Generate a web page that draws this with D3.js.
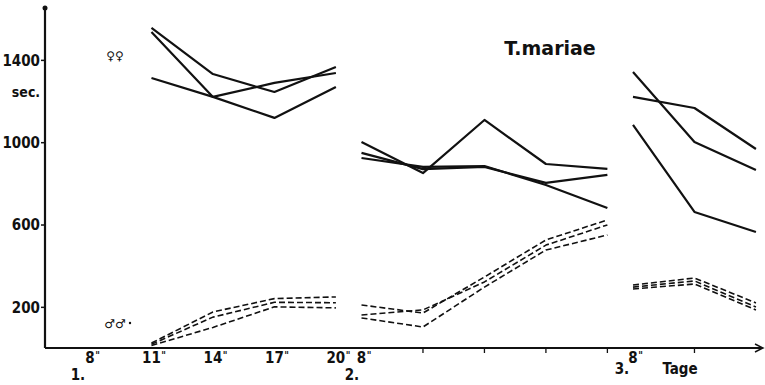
<!DOCTYPE html>
<html>
<head>
<meta charset="utf-8">
<script src="https://cdn.jsdelivr.net/npm/d3@7"></script>
<style>
  body { margin: 0; background: #fff; }
  text { font-family: "DejaVu Sans Condensed", "DejaVu Sans", sans-serif; font-weight: bold; fill: #111; }
</style>
</head>
<body>
<script>
// hours of day per test day
var hours1 = [11, 14, 17, 20];
var hours2 = [8, 11, 14, 17, 20];
var hours3 = [8, 11, 14];

// females (solid), seconds
var fem1 = [[1555, 1331, 1244, 1365], [1535, 1220, 1288, 1336], [1312, 1220, 1118, 1268]];
var fem2 = [[1001, 850, 1108, 894, 870], [948, 869, 880, 802, 841], [923, 880, 884, 792, 680]];
var fem3 = [[1341, 1001, 865], [1220, 1166, 967], [1084, 661, 564]];

// males (dashed), seconds
var mal1 = [[24, 175, 240, 248], [18, 150, 222, 220], [12, 100, 200, 195]];
var mal2 = [[209, 170, 345, 525, 622], [160, 185, 321, 500, 598], [146, 102, 296, 476, 549]];
var mal3 = [[306, 340, 219], [296, 326, 199], [287, 311, 185]];

var yTicks = [200, 600, 1000, 1400];
var dayLabels = ["1.", "2.", "3."];
var dayLen = 13.25; // one day on the time axis

var svgWidth = 765, svgHeight = 385;

var svg = d3.select("body").append("svg")
  .attr("width", svgWidth)
  .attr("height", svgHeight);

// time = hour + (day-1)*dayLen
var xScale = d3.scaleLinear().domain([8, 8 + 2 * dayLen]).range([90, 633]);
var yScale = d3.scaleLinear().domain([0, 1652]).range([348, 8]);

function t(day, h) { return h + (day - 1) * dayLen; }

// y axis
var leftAxis = d3.axisLeft(yScale).tickValues(yTicks).tickSize(4).tickPadding(1).tickFormat(d3.format("d"));
var yg = svg.append("g").attr("transform", "translate(45,0)").call(leftAxis);
yg.select(".domain").remove();
yg.selectAll("line").attr("stroke", "#111").attr("stroke-width", 1.5);
yg.selectAll("text").style("font-size", "15px").attr("dy", "0.36em");

svg.append("line").attr("x1", 45).attr("x2", 45).attr("y1", 8).attr("y2", yScale(0))
  .attr("stroke", "#111").attr("stroke-width", 2.2);
svg.append("circle").attr("cx", 45).attr("cy", 8).attr("r", 2.5).attr("fill", "#111");

svg.append("text").attr("x", 26).attr("y", 97).attr("text-anchor", "middle")
  .style("font-size", "14px").text("sec.");

// x axis with arrow
svg.append("line").attr("x1", 45).attr("x2", 762).attr("y1", yScale(0)).attr("y2", yScale(0))
  .attr("stroke", "#111").attr("stroke-width", 2);
svg.append("path")
  .attr("d", `M755,${yScale(0) - 4} L763,${yScale(0)} L755,${yScale(0) + 4}`)
  .attr("fill", "none").attr("stroke", "#111").attr("stroke-width", 1.5);

// small downward ticks, days 2 and 3
var tickTimes = [t(2, 11), t(2, 14), t(2, 17), t(2, 20), t(3, 11)];
svg.selectAll(".xtick").data(tickTimes).enter().append("line")
  .attr("class", "xtick")
  .attr("x1", d => xScale(d)).attr("x2", d => xScale(d))
  .attr("y1", yScale(0)).attr("y2", yScale(0) + 5)
  .attr("stroke", "#111").attr("stroke-width", 1.3);

// hour labels
var hourLabels = [
  { time: t(1, 8), txt: "8" }, { time: t(1, 11), txt: "11" }, { time: t(1, 14), txt: "14" },
  { time: t(1, 17), txt: "17" }, { time: t(1, 20), txt: "20" }, { time: t(2, 8), txt: "8" },
  { time: t(3, 8), txt: "8" }
];
hourLabels.forEach(function(d) {
  var x = xScale(d.time);
  var lab = svg.append("text").attr("x", x).attr("y", 363).attr("text-anchor", "middle")
    .style("font-size", "15px").text(d.txt);
  var w = lab.node().getComputedTextLength();
  svg.append("text").attr("x", x + w / 2 + 0.5).attr("y", 359)
    .style("font-size", "10px").text("\"");
});

// day labels
var dayX = [78, 352, 622];
dayLabels.forEach(function(d, i) {
  svg.append("text").attr("x", dayX[i]).attr("y", i == 2 ? 374 : 380).attr("text-anchor", "middle")
    .style("font-size", "15px").text(d);
});
svg.append("text").attr("x", 680).attr("y", 374).attr("text-anchor", "middle")
  .style("font-size", "15px").text("Tage");

// title and sex symbols
svg.append("text").attr("x", 550).attr("y", 55).attr("text-anchor", "middle")
  .style("font-family", "DejaVu Sans").style("font-size", "19px").text("T.mariae");
svg.append("text").attr("x", 115).attr("y", 60).attr("text-anchor", "middle")
  .style("font-family", "DejaVu Sans").style("font-weight", "normal").style("font-size", "12px").text("\u2640\u2640");
svg.append("text").attr("x", 115).attr("y", 328).attr("text-anchor", "middle")
  .style("font-family", "DejaVu Sans").style("font-weight", "normal").style("font-size", "12px").text("\u2642\u2642");
svg.append("circle").attr("cx", 130).attr("cy", 323).attr("r", 1.2).attr("fill", "#111");

// the curves
var line = d3.line().x(d => xScale(d[0])).y(d => yScale(d[1]));

function drawDay(day, hours, series, dashed) {
  series.forEach(function(vals) {
    var pts = vals.map((v, i) => [t(day, hours[i]), v]);
    svg.append("path")
      .datum(pts)
      .attr("d", line)
      .attr("fill", "none")
      .attr("stroke", "#111")
      .attr("stroke-width", dashed ? 1.6 : 2.2)
      .attr("stroke-dasharray", dashed ? "6,3" : null)
      .attr("stroke-linejoin", "round");
  });
}

drawDay(1, hours1, fem1, false);
drawDay(2, hours2, fem2, false);
drawDay(3, hours3, fem3, false);
drawDay(1, hours1, mal1, true);
drawDay(2, hours2, mal2, true);
drawDay(3, hours3, mal3, true);
</script>
</body>
</html>
